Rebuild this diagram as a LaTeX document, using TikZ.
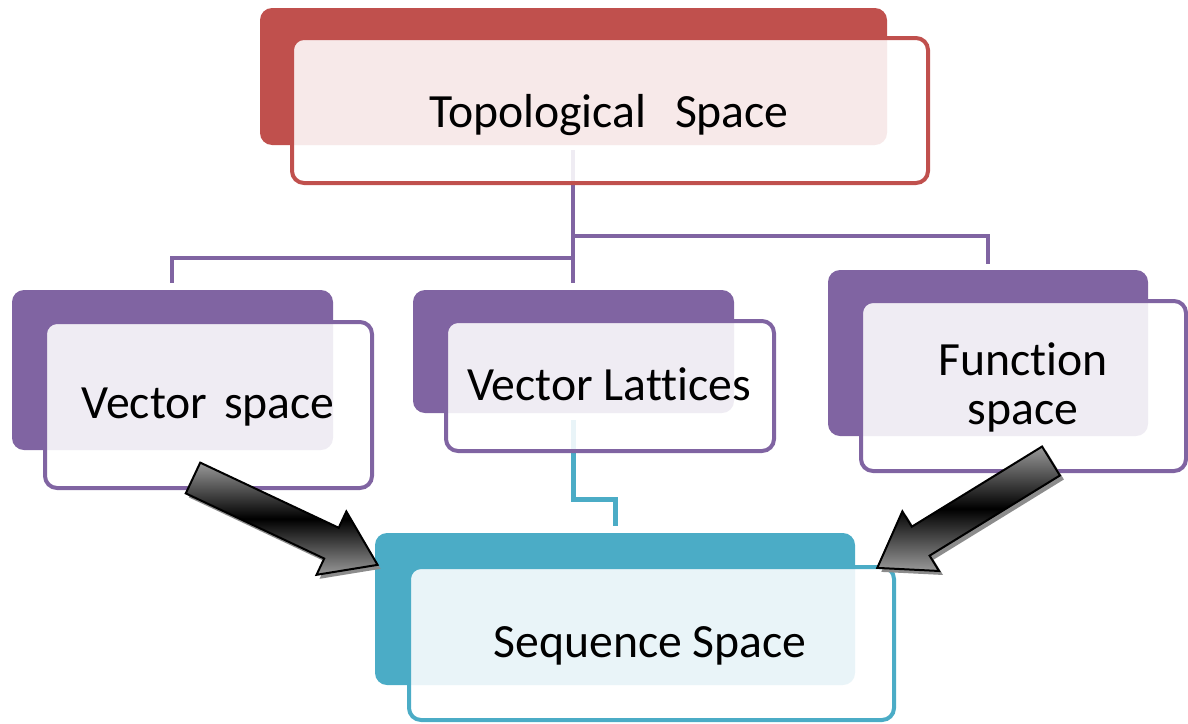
\documentclass[tikz,border=0pt]{standalone}
\usepackage{fontspec}
\setmainfont[Ligatures=NoCommon]{Carlito}
\definecolor{cred}{HTML}{C0504D}
\definecolor{cpur}{HTML}{8064A2}
\definecolor{cteal}{HTML}{4BACC6}
\tikzset{
  backbox/.style={fill=#1, draw=none, rounded corners=12pt},
  frontbox/.style={draw=#1, line width=4pt, fill=white, fill opacity=0.88, draw opacity=1, rounded corners=12pt},
  label/.style={anchor=base, inner sep=0pt, font=\fontsize{47.7}{52}\selectfont, text=black},
  link/.style={draw=#1, line width=4pt},
  blockarrow/.style={draw=black, line width=2pt, line join=miter, top color=black!40, bottom color=black!40, middle color=black},
  arrowshadow/.style={fill=black!45, draw=none}
}
\newcommand\blockarrowpath{(0,-17) -- (153,-17) -- (153,-35) -- (204,0) -- (153,35) -- (153,17) -- (0,17) -- cycle}
\begin{document}
\begin{tikzpicture}[x=1pt, y=-1pt]
\useasboundingbox (0,0) rectangle (1188,723);
% connection points
\coordinate (tb) at (573,150);
\coordinate (jr) at (573,236);
\coordinate (jl) at (573,258);
\coordinate (lv) at (172,258);
\coordinate (lve) at (172,283);
\coordinate (mve) at (573,283);
\coordinate (rv) at (988,236);
\coordinate (rve) at (988,264);
\coordinate (mb) at (573,420);
\coordinate (tk) at (573,499);
\coordinate (tk2) at (615,499);
\coordinate (tke) at (615,526);
% connectors
\draw[link=cpur] (tb) -- (mve);
\draw[link=cpur] (jr) -- (rv) -- (rve);
\draw[link=cpur] (jl) -- (lv) -- (lve);
\draw[link=cteal, line width=5pt] (mb) -- (tk) -- (tk2) -- (tke);
% top box
\path[backbox=cred] (260,8) rectangle (887,145);
\path[frontbox=cred] (292,38) rectangle (928,183);
\node[label] (top) at (609,127) {Topological\hspace{0.6em}Space};
% left box
\path[backbox=cpur] (12,290) rectangle (333,450);
\path[frontbox=cpur] (45,322) rectangle (372,488);
\node[label] (vs) at (208,418) {Vector\hspace{0.35em}space};
% middle box
\path[backbox=cpur] (413,290) rectangle (734,413);
\path[frontbox=cpur] (446,321) rectangle (774,451);
\node[label] (vl) at (609,400) {Vector Lattices};
% right box
\path[backbox=cpur] (828,270) rectangle (1148,436);
\path[frontbox=cpur] (861,301) rectangle (1186,471);
\node[label] (fs1) at (1023,375) {Function};
\node[label] (fs2) at (1023,424) {space};
% bottom box
\path[backbox=cteal] (375,533) rectangle (855,685);
\path[frontbox=cteal] (409,567) rectangle (894,720);
\node[label] (ss) at (650,657) {Sequence Space};
% left block arrow
\begin{scope}[shift={(196,482)}, rotate=-25.2]
\path[arrowshadow] \blockarrowpath;
\end{scope}
\begin{scope}[shift={(193,478)}, rotate=-25.2]
\path[blockarrow] \blockarrowpath;
\end{scope}
% right block arrow
\begin{scope}[shift={(1055,465)}, rotate=-148.4]
\path[arrowshadow] \blockarrowpath;
\end{scope}
\begin{scope}[shift={(1051,461)}, rotate=-148.4]
\path[blockarrow] \blockarrowpath;
\end{scope}
\end{tikzpicture}
\end{document}
